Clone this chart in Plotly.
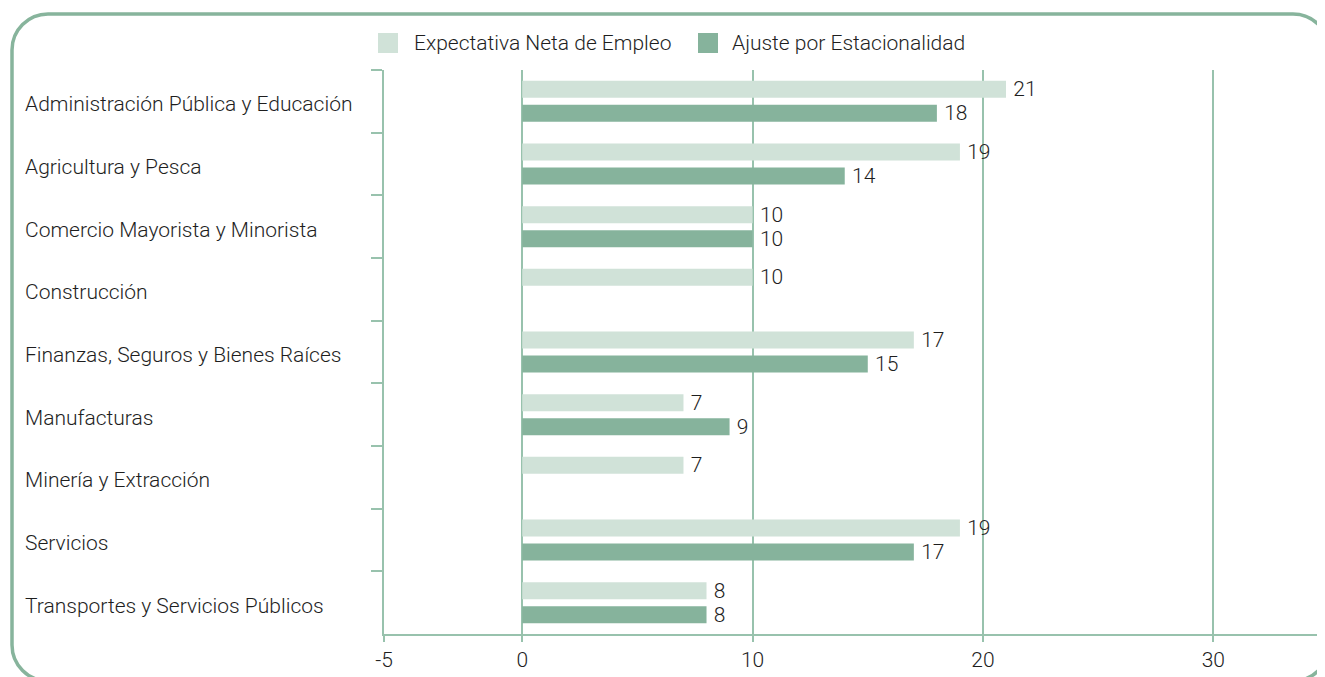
import plotly.graph_objects as go

categories = [
    "Administración Pública y Educación",
    "Agricultura y Pesca",
    "Comercio Mayorista y Minorista",
    "Construcción",
    "Finanzas, Seguros y Bienes Raíces",
    "Manufacturas",
    "Minería y Extracción",
    "Servicios",
    "Transportes y Servicios Públicos",
]
expectativa = [21, 19, 10, 10, 17, 7, 7, 19, 8]
ajuste = [18, 14, 10, None, 15, 9, None, 17, 8]
series_names = ["Expectativa Neta de Empleo", "Ajuste por Estacionalidad"]
tick_vals = [-6, 0, 10, 20, 30]
tick_text = ["-5", "0", "10", "20", "30"]

LIGHT = "#d0e2d8"
DARK = "#86b39c"
LINE = "#98c2ad"
FRAME = "#87b49c"
TEXT = "#1e1e1e"
FONT = "Roboto"
FS = 21

OFF = 8  # default page body margin
W, H = 1325 - OFF, 677 - OFF
# screen-pixel layout of plot area
SL, SR, ST, SB = 384, 1317, 70, 634
L, T = SL - OFF, ST - OFF
R = W - (SR - OFF)
B = H - (SB - OFF)
PW, PH = W - L - R, H - T - B

def px2paper(x, y):
    """screen pixel -> paper coords"""
    return (x - SL) / PW, (SB - y) / PH

fig = go.Figure()
colors = [LIGHT, DARK]
for name, vals, col in zip(series_names, [expectativa, ajuste], colors):
    fig.add_trace(go.Bar(
        y=categories, x=vals, name=name, orientation="h", showlegend=False,
        marker=dict(color=col, line=dict(width=0)),
        text=[("" if v is None else "\u2009" + str(v)) for v in vals],
        textposition="outside", cliponaxis=False, constraintext="none",
        textfont=dict(family=FONT, size=FS, color=TEXT, weight=300),
        hoverinfo="x+y",
    ))

annotations = []
lx, _ = px2paper(23, 0)
for c in categories:
    annotations.append(dict(
        x=lx, xref="paper", y=c, yref="y", text=c, showarrow=False,
        xanchor="left", yanchor="middle", yshift=-3,
        font=dict(family=FONT, size=FS, color=TEXT, weight=300),
    ))

shapes = []
# manual legend (screen pixels)
legend_swatch_x = [378, 698]
legend_text_x = [412, 730]
for name, col, sx, tx in zip(series_names, colors, legend_swatch_x, legend_text_x):
    ax0, ay0 = px2paper(sx, 33)
    ax1, ay1 = px2paper(sx + 20, 53)
    shapes.append(dict(type="rect", xref="paper", yref="paper",
                       x0=ax0, x1=ax1, y0=ay1, y1=ay0,
                       fillcolor=col, line=dict(width=0)))
    tx_, ty_ = px2paper(tx, 43)
    annotations.append(dict(x=tx_, y=ty_, xref="paper", yref="paper", text=name,
                            showarrow=False, xanchor="left", yanchor="middle",
                            font=dict(family=FONT, size=FS, color=TEXT, weight=300)))

# rounded frame (screen pixels)
x0, y0, x1, y1, r = 12, 14, 1329, 681, 36
k = 0.5523 * r
def P(x, y):
    a, b = px2paper(x, y)
    return f"{a:.5f},{b:.5f}"
path = (
    f"M {P(x0 + r, y0)} L {P(x1 - r, y0)} "
    f"C {P(x1 - r + k, y0)} {P(x1, y0 + r - k)} {P(x1, y0 + r)} "
    f"L {P(x1, y1 - r)} "
    f"C {P(x1, y1 - r + k)} {P(x1 - r + k, y1)} {P(x1 - r, y1)} "
    f"L {P(x0 + r, y1)} "
    f"C {P(x0 + r - k, y1)} {P(x0, y1 - r + k)} {P(x0, y1 - r)} "
    f"L {P(x0, y0 + r)} "
    f"C {P(x0, y0 + r - k)} {P(x0 + r - k, y0)} {P(x0 + r, y0)} Z"
)
shapes.append(dict(type="path", path=path, xref="paper", yref="paper",
                   line=dict(color=FRAME, width=3.5), layer="below"))

fig.update_layout(
    width=W, height=H,
    margin=dict(l=L, r=R, t=T, b=B, autoexpand=False),
    paper_bgcolor="white", plot_bgcolor="white",
    barmode="group", bargap=0.234, bargroupgap=0.29,
    font=dict(family=FONT, size=FS, color=TEXT, weight=300),
    showlegend=False,
    annotations=annotations,
    shapes=shapes,
    xaxis=dict(
        range=[-6, 34.5], tickvals=tick_vals, ticktext=tick_text,
        showgrid=True, gridcolor=LINE, gridwidth=1.5, zeroline=False,
        showline=True, linecolor=LINE, linewidth=1.5,
        ticks="outside", ticklen=6, tickcolor=LINE, tickwidth=1.5,
        tickfont=dict(family=FONT, size=FS, color=TEXT, weight=300),
    ),
    yaxis=dict(
        autorange="reversed", showticklabels=False,
        showline=True, linecolor=LINE, linewidth=1.5,
        ticks="outside", tickson="boundaries", ticklen=11,
        tickcolor=LINE, tickwidth=1.5, showgrid=False, zeroline=False,
    ),
)

fig.write_html("out.html")
